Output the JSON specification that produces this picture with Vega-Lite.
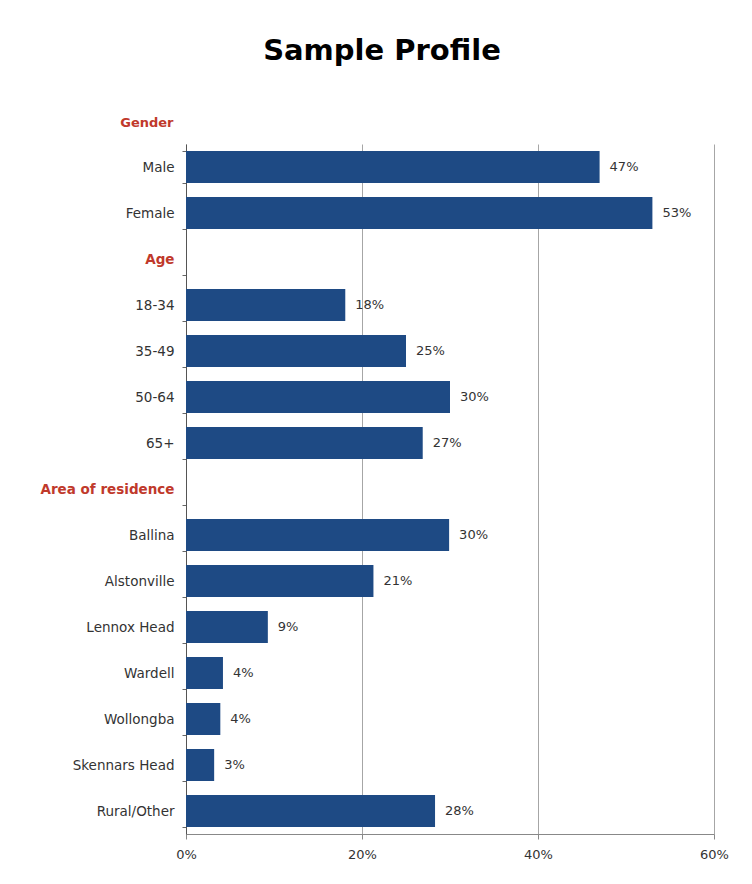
{
  "$schema": "https://vega.github.io/schema/vega-lite/v6.json",
  "autosize": {"type": "none"},
  "padding": {"left": 186, "top": 144, "right": 38, "bottom": 50},
  "width": 528,
  "height": 690,
  "background": "white",
  "title": {
    "text": "Sample Profile",
    "font": "DejaVu Sans",
    "fontSize": 29,
    "fontWeight": "bold",
    "color": "#000000",
    "anchor": "middle",
    "frame": "group",
    "dx": -68,
    "offset": 50
  },
  "config": {
    "font": "DejaVu Sans",
    "view": {"stroke": null}
  },
  "data": {
    "values": [
      {"category": "Male", "share": 0.47},
      {"category": "Female", "share": 0.53},
      {"category": "18-34", "share": 0.181},
      {"category": "35-49", "share": 0.25},
      {"category": "50-64", "share": 0.30},
      {"category": "65+", "share": 0.269},
      {"category": "Ballina", "share": 0.299},
      {"category": "Alstonville", "share": 0.213},
      {"category": "Lennox Head", "share": 0.093},
      {"category": "Wardell", "share": 0.042},
      {"category": "Wollongba", "share": 0.039},
      {"category": "Skennars Head", "share": 0.032},
      {"category": "Rural/Other", "share": 0.283}
    ]
  },
  "encoding": {
    "y": {
      "field": "category",
      "type": "nominal",
      "sort": null,
      "scale": {
        "domain": ["Male", "Female", "Age", "18-34", "35-49", "50-64", "65+", "Area of residence", "Ballina", "Alstonville", "Lennox Head", "Wardell", "Wollongba", "Skennars Head", "Rural/Other"],
        "paddingInner": 0.3,
        "paddingOuter": 0.15
      },
      "axis": {
        "title": "Gender",
        "titleAngle": 0,
        "titleAlign": "right",
        "titleBaseline": "middle",
        "titleX": -13,
        "titleY": -22,
        "titleColor": "#c0392b",
        "titleFont": "DejaVu Sans",
        "titleFontSize": 13,
        "titleFontWeight": "bold",
        "tickBand": "extent",
        "tickSize": 4,
        "tickColor": "#666666",
        "domainColor": "#555555",
        "labelPadding": 8,
        "labelFontSize": 13.5,
        "labelColor": {
          "condition": {"test": "datum.value === 'Age' || datum.value === 'Area of residence'", "value": "#c0392b"},
          "value": "#333333"
        },
        "labelFontWeight": {
          "condition": {"test": "datum.value === 'Age' || datum.value === 'Area of residence'", "value": "bold"},
          "value": "normal"
        }
      }
    },
    "x": {
      "field": "share",
      "type": "quantitative",
      "scale": {"domain": [0, 0.6]},
      "axis": {
        "title": null,
        "format": ".0%",
        "values": [0, 0.2, 0.4, 0.6],
        "labelFlush": false,
        "grid": true,
        "gridColor": "#a6a6a6",
        "gridWidth": 1,
        "tickSize": 5,
        "tickColor": "#888888",
        "domainColor": "#888888",
        "labelFontSize": 13,
        "labelColor": "#333333",
        "labelPadding": 9
      }
    }
  },
  "layer": [
    {
      "mark": {"type": "bar", "color": "#1e4a84"}
    },
    {
      "mark": {"type": "text", "align": "left", "baseline": "middle", "dx": 10, "fontSize": 13, "color": "#333333"},
      "encoding": {
        "text": {"field": "share", "type": "quantitative", "format": ".0%"}
      }
    }
  ]
}
